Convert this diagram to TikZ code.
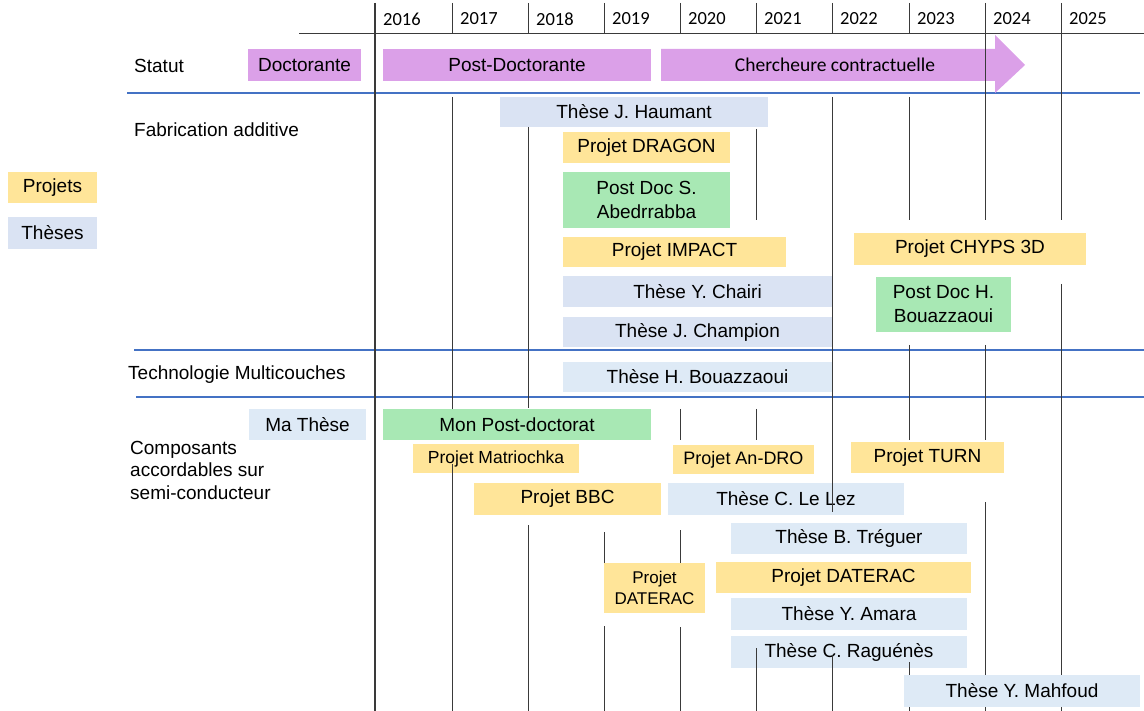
\documentclass[tikz,border=0pt]{standalone}
\usepackage{fontspec}
\setmainfont{Liberation Sans}
\newfontfamily\calibri{Carlito}
\usepackage{xcolor}
\usetikzlibrary{positioning}

\definecolor{projetjaune}{HTML}{FFE599}
\definecolor{thesebleu}{HTML}{DAE3F3}
\definecolor{theseclaire}{HTML}{DEEAF6}
\definecolor{postdocvert}{HTML}{A8E8B4}
\definecolor{statutviolet}{HTML}{DBA0E8}
\definecolor{separateur}{HTML}{4472C4}
\definecolor{grisgrille}{HTML}{3A3A3A}

\begin{document}
\begin{tikzpicture}[
    x=1pt, y=-1pt,
    boite/.style={
      rectangle,
      inner sep=0pt,
      align=center,
      text=black,
      font=\fontsize{19}{24}\selectfont
    },
    projet/.style={boite, fill=projetjaune},
    these/.style={boite, fill=thesebleu},
    theseb/.style={boite, fill=theseclaire},
    postdoc/.style={boite, fill=postdocvert},
    statut/.style={boite, fill=statutviolet},
    rubrique/.style={anchor=west, inner sep=0pt, align=left, font=\fontsize{19}{22.5}\selectfont},
    annee/.style={anchor=west, inner sep=0pt, font=\calibri\fontsize{18.5}{20}\selectfont},
    grille/.style={grisgrille, line width=1pt},
    separation/.style={separateur, line width=1.6pt}
  ]

    \useasboundingbox (0,0) rectangle (1144,711);

    % Legend
    \node[projet, minimum width=89, minimum height=31] (legprojets) at (52.5,187.5) {Projets};
    \node[these, minimum width=89, minimum height=32] (legtheses) at (52.5,233) {Thèses};

    % Row titles
    \node[rubrique] (statut) at (134,66) {Statut};
    \node[rubrique] (fabadd) at (134,130) {Fabrication additive};
    \node[rubrique] (multicouches) at (128,375) {Technologie Multicouches};
    \node[rubrique] (composants) at (130,470) {Composants\\accordables sur\\semi-conducteur};

    % Separators between themes
    \draw[separation] (127,93) -- (1140,93);
    \draw[separation] (134,350) -- (1144,350);
    \draw[separation] (136,397) -- (1144,397);

    % Statut
    \node[statut, minimum width=113, minimum height=32] (doctorante) at (304.5,65) {Doctorante};
    \node[statut, minimum width=268, minimum height=32] (postdoctorante) at (517,65) {Post-Doctorante};
    \fill[statutviolet] (661,49) -- (995,49) -- (995,35) -- (1025,65)
      -- (995,93) -- (995,81) -- (661,81) -- cycle;
    \node[font=\calibri\fontsize{19.5}{20}\selectfont, text=black] (chercheure) at (835,65) {Chercheure contractuelle};

    % Fabrication additive
    \node[these, minimum width=268, minimum height=30] (haumant) at (634,112) {Thèse J. Haumant};
    \node[projet, minimum width=167, minimum height=31] (dragon) at (646.5,147.5) {Projet DRAGON};
    \node[postdoc, minimum width=167, minimum height=56] (abedrrabba) at (646.5,200) {Post Doc S.\\Abedrrabba};
    \node[projet, minimum width=223, minimum height=30] (impact) at (674.5,252) {Projet IMPACT};
    \node[projet, minimum width=232, minimum height=32] (chyps) at (970,249) {Projet CHYPS 3D};
    \node[these, minimum width=269, minimum height=31] (chairi) at (697.5,291.5) {Thèse Y. Chairi};
    \node[postdoc, minimum width=135, minimum height=55] (pdbouazzaoui) at (943.5,304.5) {Post Doc H.\\Bouazzaoui};
    \node[these, minimum width=269, minimum height=30] (champion) at (697.5,332) {Thèse J. Champion};

    % Technologie multicouches
    \node[theseb, minimum width=269, minimum height=30] (thbouazzaoui) at (697.5,377) {Thèse H. Bouazzaoui};

    % Composants accordables
    \node[theseb, minimum width=117, minimum height=31] (mathese) at (307.5,424.5) {Ma Thèse};
    \node[postdoc, minimum width=268, minimum height=31] (monpostdoc) at (517,424.5) {Mon Post-doctorat};
    \node[projet, minimum width=166, minimum height=29, font=\fontsize{17.5}{20}\selectfont] (matriochka) at (496,458.5) {Projet Matriochka};
    \node[projet, minimum width=141, minimum height=29, font=\fontsize{18}{20}\selectfont] (andro) at (743.5,459.5) {Projet An-DRO};
    \node[projet, minimum width=153, minimum height=31] (turn) at (927.5,457.5) {Projet TURN};
    \node[projet, minimum width=187, minimum height=32] (bbc) at (567.5,499) {Projet BBC};
    \node[theseb, minimum width=236, minimum height=32] (lelez) at (786,499) {Thèse C. Le Lez};
    \node[theseb, minimum width=236, minimum height=31] (treguer) at (849,538.5) {Thèse B. Tréguer};
    \node[projet, minimum width=101, minimum height=50, font=\fontsize{17}{20.5}\selectfont] (daterac) at (654.5,588) {Projet\\DATERAC};
    \node[projet, minimum width=255, minimum height=31] (dateracb) at (843.5,577.5) {Projet DATERAC};
    \node[theseb, minimum width=236, minimum height=32] (amara) at (849,614) {Thèse Y. Amara};
    \node[theseb, minimum width=236, minimum height=32] (raguenes) at (849,652) {Thèse C. Raguénès};
    \node[theseb, minimum width=236, minimum height=32] (mahfoud) at (1022,691) {Thèse Y. Mahfoud};

    % Years
    \draw[grille] (299,34) -- (1144,34);
    \foreach \x/\an in {375/2016, 452/2017, 528/2018, 604/2019, 680/2020,
                        756/2021, 832/2022, 909/2023, 985/2024, 1061/2025}
      \node[annee] (an\an) at (\x+8,19) {\an};

    % Year grid (pieces left visible between the boxes)
    \draw[grisgrille, line width=1.4pt] (375,3) -- (375,711);
    \foreach \x/\ya/\yb in {452/3/34, 452/97/409, 452/464/711,
                            528/3/34, 528/127/408, 528/525/711,
                            604/3/34, 604/532/563, 604/626/711,
                            680/3/34, 680/409/440, 680/530/563, 680/627/711,
                            756/3/34, 756/129/220, 756/409/440, 756/648/711,
                            832/3/34, 832/97/512, 832/655/711,
                            909/3/34, 909/97/220, 909/345/440, 909/662/675, 909/707/711,
                            985/3/220, 985/345/440, 985/502/675, 985/707/711,
                            1061/3/220, 1061/284/675, 1061/707/711}
      \draw[grille] (\x,\ya) -- (\x,\yb);

  \end{tikzpicture}
\end{document}
